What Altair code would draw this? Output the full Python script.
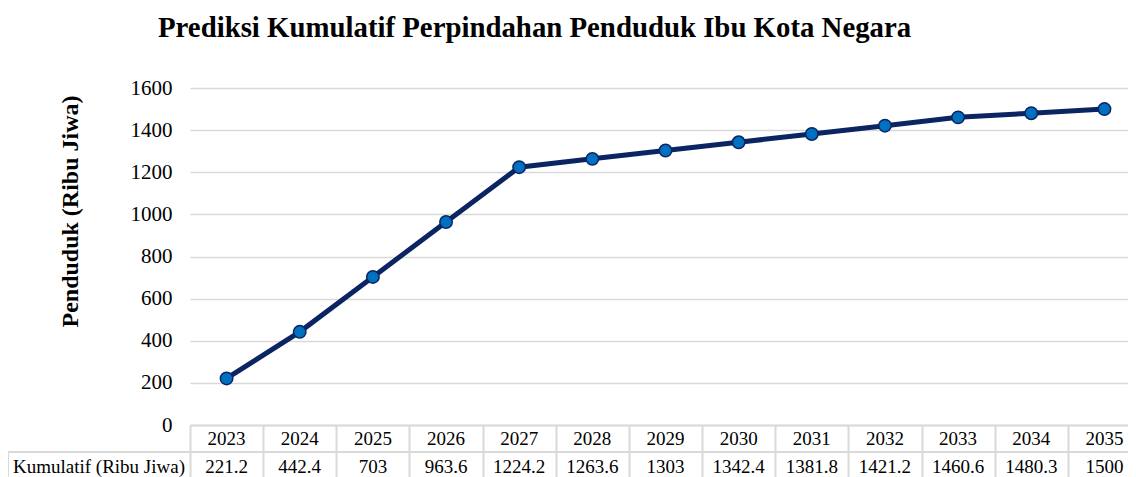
import altair as alt
import pandas as pd

years = ["2023", "2024", "2025", "2026", "2027", "2028", "2029",
         "2030", "2031", "2032", "2033", "2034", "2035"]
values = [221.2, 442.4, 703, 963.6, 1224.2, 1263.6, 1303,
          1342.4, 1381.8, 1421.2, 1460.6, 1480.3, 1500]
value_labels = ["221.2", "442.4", "703", "963.6", "1224.2", "1263.6", "1303",
                "1342.4", "1381.8", "1421.2", "1460.6", "1480.3", "1500"]
y_ticks = [0, 200, 400, 600, 800, 1000, 1200, 1400, 1600]
row_label = "Kumulatif (Ribu Jiwa)"
title = "Prediksi Kumulatif Perpindahan Penduduk Ibu Kota Negara"
y_title = "Penduduk (Ribu Jiwa)"

df = pd.DataFrame({"year": years, "value": values, "label": value_labels})

W = 938
XR = 951
H = 337
LEFT = 182
FONT = "Liberation Serif"
GRID = "#d9d9d9"

xscale = alt.Scale(type="band", paddingInner=0, paddingOuter=0, range=[0, XR])
x_enc = alt.X("year:N", scale=xscale, sort=years,
              axis=alt.Axis(title=None, labels=False, domain=True, domainColor=GRID,
                            domainWidth=2, ticks=True, tickBand="extent", tickSize=55,
                            tickColor=GRID, tickWidth=2, grid=False))
y_enc = alt.Y("value:Q", scale=alt.Scale(domain=[0, 1600], nice=False),
              axis=alt.Axis(title=y_title, values=y_ticks, format="d", grid=True,
                            gridColor=GRID, gridWidth=1.5, domain=False, ticks=False,
                            labelPadding=18, labelFont=FONT, labelFontSize=21,
                            labelColor="black", titleFont=FONT, titleFontSize=24,
                            titleFontWeight="bold", titleColor="black", titleX=-120,
                            titleY=123, titleAlign="center", titleBaseline="middle",
                            titleAngle=-90))

base = alt.Chart(df)

line = base.mark_line(color="#0b2462", strokeWidth=5).encode(x=x_enc, y=y_enc)
pts = base.mark_point(filled=True, fill="#0070c0", stroke="#0b2462", strokeWidth=1.5,
                      size=155, opacity=1).encode(x=alt.X("year:N", sort=years), y="value:Q")

year_text = base.mark_text(font=FONT, fontSize=19, color="black", baseline="middle").encode(
    x=alt.X("year:N", sort=years), y=alt.value(H + 13.5), text="year:N")
val_text = base.mark_text(font=FONT, fontSize=19, color="black", baseline="middle").encode(
    x=alt.X("year:N", sort=years), y=alt.value(H + 42), text="label:N")

hline = alt.Chart(pd.DataFrame({"a": [0]})).mark_rule(color=GRID, strokeWidth=2).encode(
    x=alt.value(-LEFT), x2=alt.value(W), y=alt.value(H + 27))
vline = alt.Chart(pd.DataFrame({"a": [0]})).mark_rule(color=GRID, strokeWidth=2).encode(
    x=alt.value(-LEFT), y=alt.value(H + 27), y2=alt.value(H + 60))
row_text = alt.Chart(pd.DataFrame({"t": [row_label]})).mark_text(
    font=FONT, fontSize=19, color="black", baseline="middle").encode(
    x=alt.value(-LEFT / 2), y=alt.value(H + 42), text="t:N")

chart = alt.layer(line, pts, year_text, val_text, hline, vline, row_text).properties(
    width=W, height=H,
    title=alt.TitleParams(title, font=FONT, fontSize=28.8, fontWeight="bold", color="black",
                          anchor="start", frame="group", dx=-32, offset=11,
                          baseline="alphabetic"),
    autosize=alt.AutoSizeParams(type="none"),
    padding={"left": LEFT, "top": 80, "right": 0, "bottom": 52},
).configure_view(stroke=None)

chart.save("out.html", embed_options={"renderer": "svg", "actions": False})
